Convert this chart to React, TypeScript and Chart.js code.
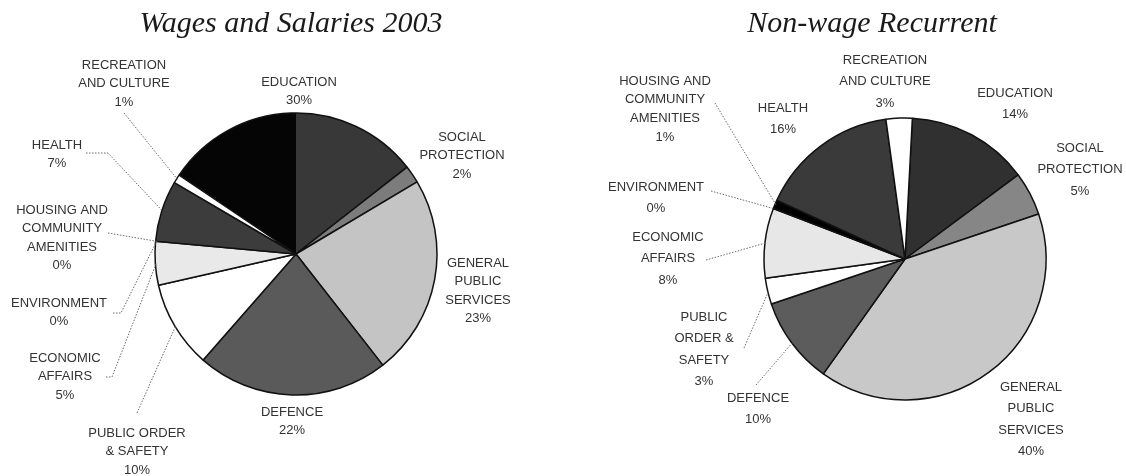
import React, { useEffect, useRef } from "react";
import { Chart, registerables } from "chart.js";

Chart.register(...registerables);

// ---------- data ----------
const categories = [
  "Education",
  "Social Protection",
  "General Public Services",
  "Defence",
  "Public Order & Safety",
  "Economic Affairs",
  "Environment",
  "Housing and Community Amenities",
  "Health",
  "Recreation and Culture",
];
const wagesValues = [30, 2, 23, 22, 10, 5, 0, 0, 7, 1];
const nonWageValues = [14, 5, 40, 10, 3, 8, 0, 1, 16, 3];

const wagesTitle = "Wages and Salaries 2003";
const nonWageTitle = "Non-wage Recurrent";

const wagesLabelLines = [
  ["EDUCATION"],
  ["SOCIAL", "PROTECTION"],
  ["GENERAL", "PUBLIC", "SERVICES"],
  ["DEFENCE"],
  ["PUBLIC ORDER", "& SAFETY"],
  ["ECONOMIC", "AFFAIRS"],
  ["ENVIRONMENT"],
  ["HOUSING AND", "COMMUNITY", "AMENITIES"],
  ["HEALTH"],
  ["RECREATION", "AND CULTURE"],
];
const nonWageLabelLines = [
  ["EDUCATION"],
  ["SOCIAL", "PROTECTION"],
  ["GENERAL", "PUBLIC", "SERVICES"],
  ["DEFENCE"],
  ["PUBLIC", "ORDER &", "SAFETY"],
  ["ECONOMIC", "AFFAIRS"],
  ["ENVIRONMENT"],
  ["HOUSING AND", "COMMUNITY", "AMENITIES"],
  ["HEALTH"],
  ["RECREATION", "AND CULTURE"],
];

// ---------- styles ----------
const wagesColors = ["#3a3a3a", "#7c7c7c", "#c4c4c4", "#5a5a5a", "#ffffff", "#e9e9e9", "#dddddd", "#444444", "#3c3c3c", "#ffffff"];
const nonWageColors = ["#303030", "#868686", "#c8c8c8", "#5c5c5c", "#ffffff", "#e7e7e7", "#dddddd", "#000000", "#3a3a3a", "#ffffff"];

// label layout: [dx, dy] of first line centre, relative to pie centre
const wagesLabelPos = [
  [3, -172], [166, -117], [182, 9], [-4, 158], [-159, 179],
  [-231, 104], [-237, 49], [-234, -44], [-239, -109], [-172, -189],
];
// leader line points (label side), relative to pie centre; null = no leader
const wagesLeaders: (number[][] | null)[] = [
  null, null, null, null,
  [[-159, 159]],
  [[-190, 123], [-184, 123]],
  [[-183, 59], [-175, 59]],
  [[-188, -21]],
  [[-210, -101], [-188, -101]],
  [[-172, -141]],
];
const nonWageLabelPos = [
  [110, -166], [175, -111], [126, 128], [-147, 139], [-201, 58],
  [-237, -22], [-249, -72], [-240, -178], [-122, -151], [-20, -199],
];
const nonWageLineHeights = [21.5, 21.5, 21.5, 21.5, 21.5, 21.5, 21.5, 18.7, 21.5, 21.5];
const nonWageLeaders: (number[][] | null)[] = [
  null, null, null,
  [[-149, 126]],
  [[-161, 89]],
  [[-199, 1]],
  [[-194, -68]],
  [[-190, -156]],
  null, null,
];

const labelPlugin = {
  id: "sliceLabels",
  afterDraw(chart: any, _args: any, opts: any) {
    const ctx = chart.ctx;
    const meta = chart.getDatasetMeta(0);
    const values = chart.data.datasets[0].data as number[];
    const arcs = meta.data;
    if (!arcs.length) return;
    const c = arcs[0].getProps(["x", "y"], true);
    ctx.save();
    // title
    ctx.fillStyle = "#1a1a1a";
    ctx.font = 'italic 30px "Liberation Serif", "Times New Roman", serif';
    ctx.textAlign = "center";
    ctx.textBaseline = "alphabetic";
    ctx.fillText(opts.title, c.x + opts.titleDx, opts.titleY);

    // leaders
    ctx.strokeStyle = "#6a6a6a";
    ctx.lineWidth = 1;
    ctx.setLineDash([1.5, 1.5]);
    arcs.forEach((arc: any, i: number) => {
      const pts = opts.leaders[i];
      if (!pts) return;
      const p = arc.getProps(["x", "y", "startAngle", "endAngle", "outerRadius"], true);
      const mid = (p.startAngle + p.endAngle) / 2;
      const ex = p.x + Math.cos(mid) * (p.outerRadius - 1);
      const ey = p.y + Math.sin(mid) * (p.outerRadius - 1);
      ctx.beginPath();
      ctx.moveTo(p.x + pts[0][0], p.y + pts[0][1]);
      for (let k = 1; k < pts.length; k++) ctx.lineTo(p.x + pts[k][0], p.y + pts[k][1]);
      ctx.lineTo(ex, ey);
      ctx.stroke();
    });
    ctx.setLineDash([]);

    // labels
    ctx.fillStyle = "#333333";
    ctx.font = '13px "Liberation Sans", Arial, sans-serif';
    ctx.textBaseline = "middle";
    arcs.forEach((_arc: any, i: number) => {
      const lines = [...opts.lines[i], `${values[i]}%`];
      const [dx, dy] = opts.pos[i];
      const lh = opts.lineHeights ? opts.lineHeights[i] : opts.lineHeight;
      lines.forEach((t: string, k: number) => {
        ctx.fillText(t, c.x + dx, c.y + dy + k * lh);
      });
    });
    ctx.restore();
  },
};

function makeChart(canvas: HTMLCanvasElement, cfg: any) {
  return new Chart(canvas, {
    type: "pie",
    data: {
      labels: categories,
      datasets: [
        {
          data: cfg.values,
          backgroundColor: (sc: any) => {
            const i = sc.dataIndex;
            if (cfg.splitFirst && i === 0) {
              const a = sc.chart.chartArea;
              if (!a) return cfg.colors[i];
              const cx = (a.left + a.right) / 2;
              const g = sc.chart.ctx.createLinearGradient(cx - 0.5, 0, cx + 0.5, 0);
              g.addColorStop(0, "#050505");
              g.addColorStop(1, "#383838");
              return g;
            }
            return cfg.colors[i];
          },
          borderColor: "#111111",
          borderWidth: 1.5,
        },
      ],
    },
    options: {
      responsive: false,
      animation: false,
      events: [],
      rotation: cfg.rotation,
      radius: 141,
      layout: { padding: cfg.padding },
      plugins: {
        legend: { display: false },
        title: { display: false },
        tooltip: { enabled: false },
        sliceLabels: {
          title: cfg.title,
          titleDx: cfg.titleDx,
          titleY: 32,
          lines: cfg.lines,
          pos: cfg.pos,
          leaders: cfg.leaders,
          lineHeight: cfg.lineHeight,
          lineHeights: cfg.lineHeights,
        },
      } as any,
    },
    plugins: [labelPlugin],
  } as any);
}

export default function App() {
  const leftRef = useRef<HTMLCanvasElement>(null);
  const rightRef = useRef<HTMLCanvasElement>(null);

  useEffect(() => {
    const left = makeChart(leftRef.current!, {
      values: wagesValues,
      colors: wagesColors,
      splitFirst: true,
      rotation: -56,
      padding: { left: 146, right: 114, top: 104, bottom: 72 },
      title: wagesTitle,
      titleDx: -5,
      lines: wagesLabelLines,
      pos: wagesLabelPos,
      leaders: wagesLeaders,
      lineHeight: 18.5,
    });
    const right = makeChart(rightRef.current!, {
      values: nonWageValues,
      colors: nonWageColors,
      splitFirst: false,
      rotation: 3,
      padding: { left: 195, right: 71, top: 109, bottom: 67 },
      title: nonWageTitle,
      titleDx: -33,
      lines: nonWageLabelLines,
      pos: nonWageLabelPos,
      leaders: nonWageLeaders,
      lineHeights: nonWageLineHeights,
    });
    return () => {
      left.destroy();
      right.destroy();
    };
  }, []);

  return (
    <div style={{ position: "absolute", left: 0, top: 0, width: 1126, height: 476, background: "#ffffff", overflow: "hidden" }}>
      <canvas ref={leftRef} width={560} height={476} style={{ position: "absolute", left: 0, top: 0 }} />
      <canvas ref={rightRef} width={566} height={476} style={{ position: "absolute", left: 560, top: 0 }} />
    </div>
  );
}
